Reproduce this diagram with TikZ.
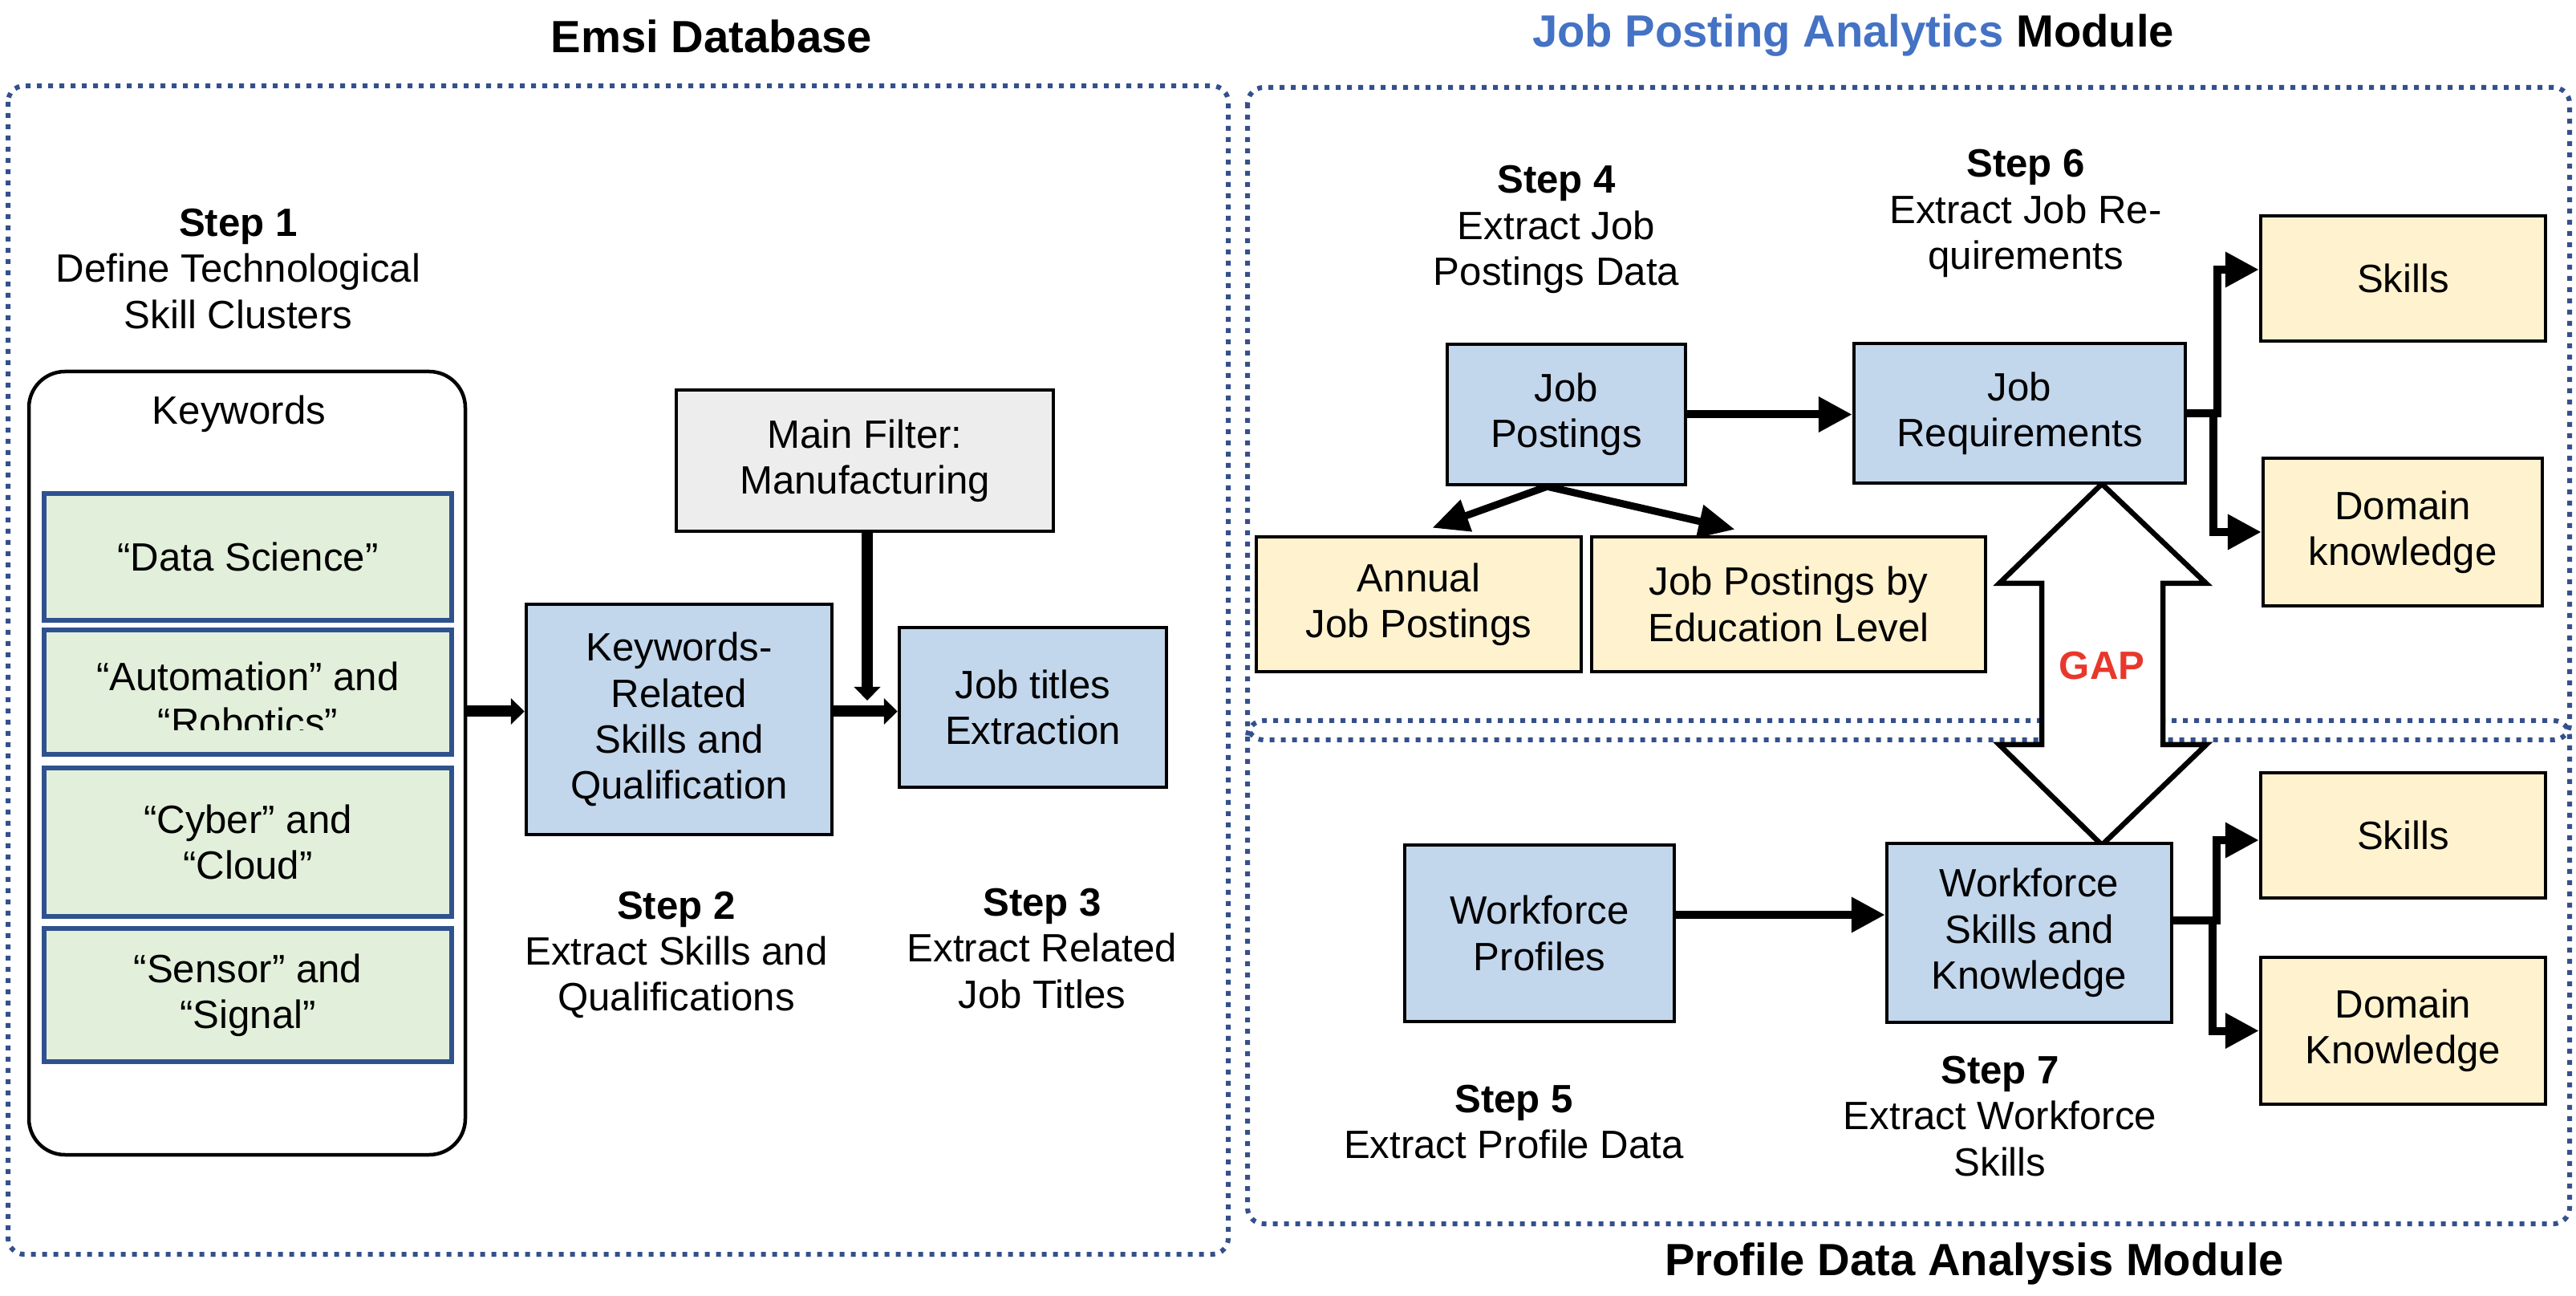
\documentclass[tikz,border=0pt]{standalone}
\usepackage{fontspec}
\setmainfont{Liberation Sans}
\usetikzlibrary{arrows.meta}
\definecolor{dotblue}{RGB}{52,80,140}
\definecolor{boxblue}{RGB}{194,214,236}
\definecolor{boxyellow}{RGB}{255,242,206}
\definecolor{boxgreen}{RGB}{226,239,218}
\definecolor{boxgray}{RGB}{237,237,237}
\definecolor{kwborder}{RGB}{47,82,143}
\definecolor{titleblue}{RGB}{68,114,196}
\definecolor{gapred}{RGB}{232,56,43}
\begin{document}
\begin{tikzpicture}[line width=0.045cm,
  txt/.style={font=\fontsize{14pt}{16.3pt}\selectfont, align=center},
  ttl/.style={font=\fontsize{16pt}{19pt}\selectfont\bfseries},
  module/.style={draw=dotblue, line width=0.06cm, dash pattern=on 0.06cm off 0.08cm, rounded corners=0.2cm},
  bbox/.style={txt, draw, fill=boxblue, inner sep=0pt},
  ybox/.style={txt, draw, fill=boxyellow, inner sep=0pt},
  kwbox/.style={txt, draw=kwborder, line width=0.065cm, fill=boxgreen, minimum width=5.08cm, inner sep=0pt},
  bigarr/.style={line width=0.14cm, -{Triangle[length=0.17cm,width=0.32cm]}},
  arr/.style={line width=0.10cm, -{Triangle[length=0.42cm,width=0.42cm]}},
  arrthin/.style={line width=0.09cm, -{Triangle[length=0.45cm,width=0.40cm]}}]
  \useasboundingbox (0,0) rectangle (32.11,-16.15);
  % Emsi Database
  \node[ttl] (tEmsi) at (8.87,-0.45) {Emsi Database};
  \draw[module] (0.10,-1.07) rectangle (15.31,-15.63);
  \node[txt] (s1) at (2.97,-3.35) {\textbf{Step 1}\\Define Technological\\Skill Clusters};
  \node[draw, rounded corners=0.45cm, minimum width=5.44cm, minimum height=9.76cm] (kwFrame) at (3.08,-9.51) {};
  \node[txt] (kwLbl) at (2.98,-5.16) {Keywords};
  \node[kwbox, minimum height=1.58cm] (kwData) at (3.09,-6.94) {“Data Science”};
  \node[kwbox, minimum height=1.55cm] (kwAuto) at (3.09,-8.625) {};
  \begin{scope}
    \clip (0.55,-7.85) rectangle (5.63,-9.10);
    \node[txt] (kwAutoTxt) at (3.09,-8.715) {“Automation” and\\“Robotics”};
  \end{scope}
  \node[kwbox, minimum height=1.85cm] (kwCyber) at (3.09,-10.495) {“Cyber” and\\“Cloud”};
  \node[kwbox, minimum height=1.66cm] (kwSensor) at (3.09,-12.40) {“Sensor” and\\“Signal”};
  \node[bbox, minimum width=3.81cm, minimum height=2.87cm] (KR) at (8.465,-8.965) {Keywords-\\Related\\Skills and\\Qualification};
  \node[txt, draw, fill=boxgray, inner sep=0pt, minimum width=4.70cm, minimum height=1.76cm] (Filter) at (10.78,-5.74) {Main Filter:\\Manufacturing};
  \node[bbox, minimum width=3.33cm, minimum height=1.99cm] (JT) at (12.875,-8.815) {Job titles\\Extraction};
  \node[txt] (s2) at (8.43,-11.90) {\textbf{Step 2}\\Extract Skills and\\Qualifications};
  \node[txt] (s3) at (12.99,-11.82) {\textbf{Step 3}\\Extract Related\\Job Titles};
  \coordinate (fTip) at (10.81,-8.73);
  \draw[bigarr] ([yshift=0.1cm]KR.west -| kwFrame.east) -- ([yshift=0.1cm]KR.west);
  \draw[bigarr] ([yshift=0.1cm]KR.east) -- ([yshift=0.1cm]KR.east -| JT.west);
  \draw[bigarr] (Filter.south -| fTip) -- (fTip);
  % Job Posting Analytics / Profile Data Analysis
  \node[ttl] (tJPA) at (23.10,-0.44) {\textcolor{titleblue}{Job Posting Analytics} Module};
  \draw[module] (15.55,-1.09) rectangle (32.03,-9.22);
  \draw[module] (15.55,-8.98) rectangle (32.03,-15.25);
  \node[ttl] (tPDA) at (24.61,-15.75) {Profile Data Analysis Module};
  % GAP
  \draw[fill=white, line width=0.065cm] (26.20,-6.03) -- (27.50,-7.27) -- (26.96,-7.27) -- (26.96,-9.28) -- (27.50,-9.28)
    -- (26.20,-10.53) -- (24.92,-9.28) -- (25.45,-9.28) -- (25.45,-7.27) -- (24.92,-7.27) -- cycle;
  \node[font=\fontsize{14pt}{16pt}\selectfont\bfseries, text=gapred] (gap) at (26.20,-8.30) {GAP};
  \node[txt] (s4) at (19.40,-2.86) {\textbf{Step 4}\\Extract Job\\Postings Data};
  \node[bbox, minimum width=2.97cm, minimum height=1.75cm] (JP) at (19.525,-5.165) {Job\\Postings};
  \node[bbox, minimum width=4.13cm, minimum height=1.74cm] (JR) at (25.175,-5.15) {Job\\Requirements};
  \node[txt] (s6) at (25.25,-2.66) {\textbf{Step 6}\\Extract Job Re-\\quirements};
  \node[ybox, minimum width=3.55cm, minimum height=1.56cm] (Sk1) at (29.955,-3.47) {Skills};
  \node[ybox, minimum width=3.48cm, minimum height=1.84cm] (Dm1) at (29.95,-6.63) {Domain\\knowledge};
  \node[ybox, minimum width=4.05cm, minimum height=1.68cm] (An) at (17.685,-7.53) {Annual\\Job Postings};
  \node[ybox, minimum width=4.91cm, minimum height=1.68cm] (Ed) at (22.295,-7.53) {Job Postings by\\Education Level};
  \node[bbox, minimum width=3.36cm, minimum height=2.20cm] (WP) at (19.19,-11.63) {Workforce\\Profiles};
  \node[bbox, minimum width=3.55cm, minimum height=2.23cm] (WS) at (25.295,-11.625) {Workforce\\Skills and\\Knowledge};
  \node[ybox, minimum width=3.55cm, minimum height=1.56cm] (Sk2) at (29.955,-10.41) {Skills};
  \node[ybox, minimum width=3.55cm, minimum height=1.83cm] (Dk2) at (29.955,-12.845) {Domain\\Knowledge};
  \node[txt] (s5) at (18.87,-13.98) {\textbf{Step 5}\\Extract Profile Data};
  \node[txt] (s7) at (24.93,-13.91) {\textbf{Step 7}\\Extract Workforce\\Skills};
  \draw[arr] (JP.east) -- (JP.east -| JR.west);
  \draw[arr] (JR.east) -- ++(0.38,0) |- ([yshift=0.11cm]Sk1.west);
  \draw[arr] (JR.east) -- ++(0.33,0) |- (Dm1.west);
  \draw[arrthin] ([xshift=-0.24cm]JP.south) -- ([xshift=0.17cm,yshift=0.09cm]An.north);
  \draw[arrthin] ([xshift=-0.24cm]JP.south) -- ([xshift=-0.67cm,yshift=0.07cm]Ed.north);
  \draw[arr] ([yshift=0.23cm]WP.east) -- ([yshift=0.23cm]WP.east -| WS.west);
  \draw[arr] ([yshift=0.16cm]WS.east) -- ++(0.54,0) |- ([yshift=-0.06cm]Sk2.west);
  \draw[arr] ([yshift=0.16cm]WS.east) -- ++(0.49,0) |- (Dk2.west);
\end{tikzpicture}
\end{document}
